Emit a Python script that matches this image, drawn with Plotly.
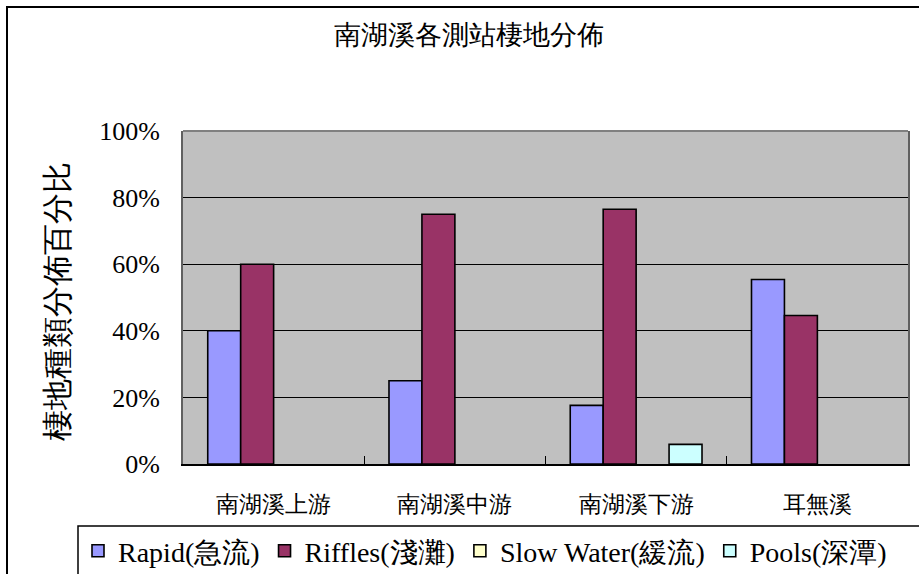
import plotly.graph_objects as go

categories = ["南湖溪上游", "南湖溪中游", "南湖溪下游", "耳無溪"]
rapid = [40.0, 25.0, 17.6, 55.4]
riffles = [60.0, 75.0, 76.5, 44.6]
slow_water = [0, 0, 0, 0]
pools = [0, 0, 5.9, 0]

series_names = ["Rapid(急流)", "Riffles(淺灘)", "Slow Water(緩流)", "Pools(深潭)"]
series_colors = ["#9999FF", "#993366", "#FFFFCC", "#CCFFFF"]
y_ticks = [0, 20, 40, 60, 80, 100]
y_tick_labels = ["0%", "20%", "40%", "60%", "80%", "100%"]

title_text = "南湖溪各測站棲地分佈"
y_title = "棲地種類分佈百分比"

FONT = "Times New Roman, Liberation Serif, serif"

W, H = 919, 574
L, R, T, B = 183, 11, 131, 110
PW = W - L - R
PH = H - T - B


def px_x(px):
    return (px - L) / PW


def px_y(py):
    return (H - B - py) / PH


fig = go.Figure()
for name, vals, col in zip(series_names, [rapid, riffles, slow_water, pools], series_colors):
    fig.add_trace(go.Bar(
        x=categories,
        y=[v if v else None for v in vals],
        name=name,
        marker=dict(color=col, line=dict(color="black", width=1.6)),
    ))

fig.update_layout(
    width=W, height=H,
    margin=dict(l=L, r=R, t=T, b=B, autoexpand=False),
    paper_bgcolor="white",
    plot_bgcolor="#C0C0C0",
    barmode="group",
    bargap=0.273,
    bargroupgap=0,
    font=dict(family=FONT, color="black"),
    title=dict(text=title_text, x=469 / W, xanchor="center", y=1 - 35 / H, yanchor="middle",
               font=dict(size=27, family=FONT, color="black")),
    showlegend=True,
    legend=dict(
        orientation="h",
        x=px_x(78), xanchor="left",
        y=px_y(526), yanchor="top",
        bgcolor="rgba(0,0,0,0)",
        borderwidth=0,
        font=dict(size=28, family=FONT, color="black"),
        itemwidth=30,
        traceorder="normal",
    ),
)

fig.update_xaxes(
    showgrid=False,
    showline=True, linecolor="black", linewidth=1.5,
    ticks="inside", ticklen=8, tickcolor="black", tickwidth=1,
    tickson="boundaries",
    tickfont=dict(size=23, family=FONT, color="black"),
    ticklabelstandoff=19,
)
fig.update_yaxes(
    range=[0, 100],
    tickvals=y_ticks, ticktext=y_tick_labels,
    showgrid=True, gridcolor="black", gridwidth=1,
    showline=True, linecolor="#606060", linewidth=2, mirror=True,
    ticks="inside", ticklen=8, tickcolor="black",
    tickfont=dict(size=26, family=FONT, color="black"),
    ticklabelstandoff=16,
    zeroline=False,
)

# top edge of plot area (grey)
fig.add_shape(type="line", xref="paper", yref="paper", x0=0, x1=1, y0=1, y1=1,
              line=dict(color="#808080", width=2))

# outer chart frame
fig.add_shape(type="rect", xref="paper", yref="paper",
              x0=px_x(7), x1=px_x(930), y0=px_y(7), y1=px_y(600),
              line=dict(color="black", width=2), fillcolor="rgba(0,0,0,0)", layer="below")

# legend box (extends past the page edge, as in the original)
fig.add_shape(type="rect", xref="paper", yref="paper",
              x0=px_x(78), x1=px_x(940), y0=px_y(526), y1=px_y(600),
              line=dict(color="black", width=1.5), fillcolor="white", layer="above")

# y axis title
fig.add_annotation(text=y_title, textangle=-90, xref="paper", yref="paper",
                   x=px_x(57), y=px_y(302), xanchor="center", yanchor="middle",
                   showarrow=False, font=dict(size=31, family=FONT, color="black"))

fig.write_html("out.html", config={"displayModeBar": False},
               post_script="document.body.style.margin='0';")
